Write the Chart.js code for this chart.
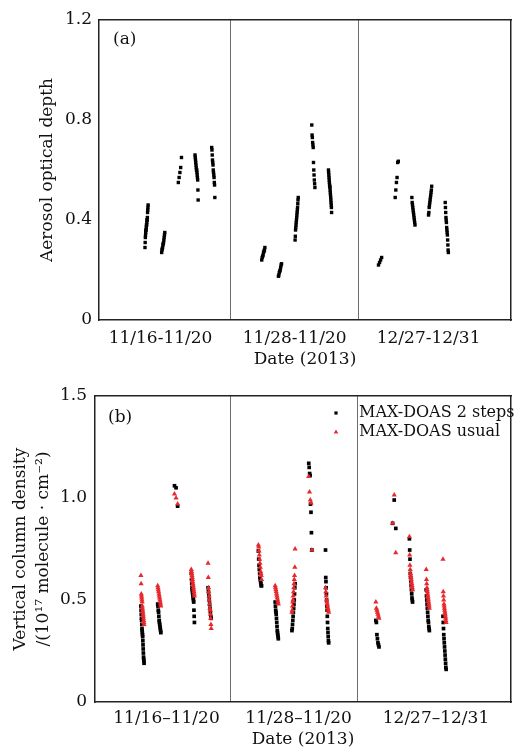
<!DOCTYPE html>
<html>
<head>
<meta charset="utf-8">
<title>AOD and VCD, MAX-DOAS 2013</title>
<script src="https://cdn.jsdelivr.net/npm/chart.js@4.4.0/dist/chart.umd.min.js"></script>
<style>
    body { margin: 0; background: #fff; }
    canvas { position: absolute; left: 0; }
</style>
</head>
<body>
<canvas id="aodChart" width="515" height="372" style="top:0"></canvas>
<canvas id="vcdChart" width="515" height="381" style="top:372px"></canvas>
<script>
// Category labels of the three measurement periods
const periodLabelsA = ['11/16-11/20', '11/28-11/20', '12/27-12/31'];
const periodLabelsB = ['11/16\u201311/20', '11/28\u201311/20', '12/27\u201312/31'];

// Y tick values and their labels
const yTicksA = [0, 0.4, 0.8, 1.2];
const yTickLabelsA = ['0', '0.4', '0.8', '1.2'];
const yTicksB = [0, 0.5, 1.0, 1.5];
const yTickLabelsB = ['0', '0.5', '1.0', '1.5'];

// Measurement days on the compressed date axis (three blocks of five days)
const days = [3, 4, 5, 6, 7, 10, 11, 12, 13, 14, 17, 18, 19, 20, 21];

// Aerosol optical depth, one list per day in time order
const aod = [
    [0.29, 0.31, 0.33, 0.34, 0.35, 0.36, 0.36, 0.37, 0.38, 0.38, 0.39, 0.40, 0.40, 0.41, 0.43, 0.44, 0.45, 0.46],
    [0.27, 0.28, 0.285, 0.29, 0.30, 0.305, 0.31, 0.32, 0.33, 0.34, 0.35],
    [0.55, 0.57, 0.59, 0.61, 0.65],
    [0.66, 0.65, 0.64, 0.63, 0.62, 0.61, 0.60, 0.60, 0.59, 0.58, 0.57, 0.56, 0.52, 0.48],
    [0.69, 0.68, 0.66, 0.64, 0.63, 0.62, 0.60, 0.59, 0.58, 0.57, 0.55, 0.54, 0.49],
    [0.24, 0.25, 0.255, 0.26, 0.27, 0.275, 0.28, 0.29],
    [0.175, 0.18, 0.19, 0.195, 0.20, 0.21, 0.22, 0.225],
    [0.32, 0.335, 0.36, 0.37, 0.38, 0.39, 0.40, 0.41, 0.42, 0.43, 0.44, 0.45, 0.465, 0.48, 0.49],
    [0.78, 0.74, 0.73, 0.71, 0.70, 0.69, 0.63, 0.60, 0.58, 0.56, 0.545, 0.53],
    [0.60, 0.59, 0.58, 0.57, 0.56, 0.55, 0.54, 0.535, 0.53, 0.52, 0.51, 0.50, 0.49, 0.48, 0.47, 0.46, 0.45, 0.43],
    [0.22, 0.23, 0.24, 0.25],
    [0.49, 0.52, 0.55, 0.57, 0.63, 0.635],
    [0.49, 0.47, 0.46, 0.45, 0.44, 0.43, 0.42, 0.41, 0.40, 0.39, 0.38],
    [0.42, 0.43, 0.45, 0.46, 0.47, 0.48, 0.49, 0.50, 0.51, 0.52, 0.535],
    [0.47, 0.45, 0.43, 0.41, 0.40, 0.39, 0.37, 0.36, 0.35, 0.34, 0.32, 0.30, 0.28, 0.27]
];

// Vertical column density (10^17 molecule/cm2), MAX-DOAS 2 steps
const vcdTwoSteps = [
    [0.47, 0.45, 0.43, 0.41, 0.40, 0.38, 0.36, 0.35, 0.34, 0.33, 0.32, 0.30, 0.28, 0.26, 0.24, 0.22, 0.21, 0.20, 0.19],
    [0.48, 0.47, 0.45, 0.44, 0.42, 0.40, 0.39, 0.38, 0.37, 0.36, 0.35, 0.34],
    [1.06, 1.05, 0.96],
    [0.63, 0.60, 0.58, 0.56, 0.55, 0.54, 0.53, 0.52, 0.51, 0.50, 0.49, 0.45, 0.42, 0.39],
    [0.56, 0.54, 0.52, 0.50, 0.48, 0.46, 0.44, 0.42, 0.41],
    [0.74, 0.70, 0.67, 0.65, 0.63, 0.61, 0.60, 0.59, 0.58, 0.57, 0.57],
    [0.49, 0.47, 0.45, 0.44, 0.43, 0.41, 0.39, 0.37, 0.35, 0.34, 0.33, 0.32, 0.31],
    [0.35, 0.36, 0.38, 0.40, 0.42, 0.44, 0.46, 0.48, 0.50, 0.53, 0.56, 0.58],
    [1.17, 1.15, 1.12, 1.11, 0.97, 0.93, 0.83, 0.745],
    [0.745, 0.61, 0.59, 0.56, 0.53, 0.50, 0.47, 0.45, 0.42, 0.39, 0.36, 0.34, 0.32, 0.30, 0.29],
    [0.40, 0.39, 0.33, 0.31, 0.29, 0.28, 0.27],
    [0.876, 0.99, 0.851],
    [0.80, 0.745, 0.70, 0.63, 0.61, 0.59, 0.57, 0.55, 0.53, 0.51, 0.50, 0.49],
    [0.55, 0.52, 0.50, 0.48, 0.46, 0.44, 0.42, 0.40, 0.39, 0.37, 0.36, 0.35],
    [0.42, 0.39, 0.36, 0.33, 0.31, 0.29, 0.27, 0.25, 0.23, 0.21, 0.19, 0.17, 0.16]
];

// Vertical column density, MAX-DOAS usual
const vcdUsual = [
    [0.62, 0.58, 0.53, 0.52, 0.51, 0.50, 0.49, 0.47, 0.46, 0.45, 0.44, 0.43, 0.42, 0.41, 0.40, 0.39, 0.38],
    [0.57, 0.56, 0.55, 0.54, 0.53, 0.52, 0.51, 0.50, 0.49, 0.48, 0.47],
    [1.02, 1.00, 0.97],
    [0.65, 0.64, 0.63, 0.62, 0.61, 0.60, 0.59, 0.58, 0.57, 0.56, 0.55, 0.54, 0.53, 0.52],
    [0.68, 0.61, 0.56, 0.54, 0.52, 0.50, 0.48, 0.46, 0.45, 0.43, 0.41, 0.38, 0.36],
    [0.77, 0.76, 0.74, 0.72, 0.70, 0.68, 0.66, 0.64, 0.63, 0.62, 0.60],
    [0.57, 0.56, 0.55, 0.54, 0.53, 0.52, 0.51, 0.50, 0.49, 0.48],
    [0.44, 0.45, 0.47, 0.49, 0.50, 0.52, 0.54, 0.56, 0.58, 0.60, 0.62, 0.66, 0.75],
    [1.105, 1.03, 0.99, 0.975, 0.745],
    [0.56, 0.54, 0.52, 0.50, 0.49, 0.48, 0.47, 0.46, 0.45, 0.44],
    [0.49, 0.46, 0.45, 0.44, 0.43, 0.42, 0.41],
    [0.876, 1.015, 0.732],
    [0.81, 0.72, 0.67, 0.65, 0.63, 0.62, 0.61, 0.60, 0.59, 0.58, 0.57, 0.56, 0.55],
    [0.65, 0.60, 0.58, 0.56, 0.55, 0.54, 0.53, 0.52, 0.51, 0.50, 0.49, 0.48, 0.47, 0.46],
    [0.70, 0.54, 0.52, 0.50, 0.48, 0.47, 0.46, 0.45, 0.44, 0.43, 0.42, 0.41, 0.40, 0.39]
];

// Daily observation window (hours)
const obsStart = 10;
const obsEnd = 14.5;

const FONT = "'DejaVu Serif', serif";
const INK = '#111';
const RED = '#e8282c';

Chart.defaults.font.family = FONT;
Chart.defaults.color = INK;

// Spread the samples of each day over the observation window
function toPoints(perDay) {
    const points = [];
    perDay.forEach((values, d) => {
        values.forEach((v, i) => {
            const frac = values.length > 1 ? i / (values.length - 1) : 0.5;
            const hour = obsStart + (obsEnd - obsStart) * frac;
            points.push({ x: days[d] + hour / 24, y: v });
        });
    });
    return points;
}

// Small text tag "(a)" / "(b)" plus an inset legend
const insetText = {
    id: 'insetText',
    afterDraw(chart, args, opts) {
        const { ctx, chartArea } = chart;
        ctx.save();
        ctx.fillStyle = INK;
        ctx.textBaseline = 'middle';
        ctx.textAlign = 'left';
        ctx.font = '17px ' + FONT;
        ctx.fillText(opts.tag, chartArea.left + opts.tagX, chartArea.top + opts.tagY);

        if (opts.legend) {
            ctx.font = '16px ' + FONT;
            chart.data.datasets.forEach((ds, i) => {
                const y = chartArea.top + opts.legendY + i * opts.legendGap;
                const mx = chartArea.right + opts.markerX;
                ctx.fillStyle = ds.backgroundColor;
                ctx.beginPath();
                if (ds.pointStyle === 'triangle') {
                    ctx.moveTo(mx, y - 2.6);
                    ctx.lineTo(mx + 2.3, y + 1.4);
                    ctx.lineTo(mx - 2.3, y + 1.4);
                    ctx.closePath();
                } else {
                    ctx.rect(mx - 1.6, y - 1.6, 3.2, 3.2);
                }
                ctx.fill();
                ctx.fillStyle = INK;
                ctx.fillText(ds.label, chartArea.right + opts.textX, y);
            });
        }
        ctx.restore();
    }
};

function makeScales(cfg) {
    const xTicks = cfg.labelAt.concat(cfg.dividers).sort((a, b) => a - b);
    return {
        x: {
            type: 'linear',
            min: cfg.xMin,
            max: cfg.xMax,
            afterBuildTicks: axis => { axis.ticks = xTicks.map(v => ({ value: v })); },
            afterFit: axis => { axis.height = cfg.xHeight; },
            ticks: {
                autoSkip: false,
                maxRotation: 0,
                minRotation: 0,
                padding: cfg.xPad,
                font: { size: 17 },
                callback: value => {
                    const k = cfg.labelAt.indexOf(value);
                    return k >= 0 ? cfg.labels[k] : '';
                }
            },
            grid: {
                drawTicks: false,
                lineWidth: 1,
                color: ctx => (ctx.tick && cfg.dividers.includes(ctx.tick.value)) ? '#6e6e6e' : 'rgba(0,0,0,0)'
            },
            border: { display: true, color: '#222', width: 1.5 },
            title: {
                display: true,
                text: 'Date (2013)',
                font: { size: 17 },
                padding: { top: 0, bottom: cfg.xTitlePad }
            }
        },
        y: {
            min: cfg.yTicks[0],
            max: cfg.yTicks[cfg.yTicks.length - 1],
            afterBuildTicks: axis => { axis.ticks = cfg.yTicks.map(v => ({ value: v })); },
            afterFit: axis => { axis.width = cfg.yWidth; },
            ticks: {
                padding: cfg.yPad,
                font: { size: 17 },
                callback: (value, index) => cfg.yTickLabels[index]
            },
            grid: { display: false, drawTicks: false },
            border: { display: true, color: '#222', width: 1.5 },
            title: {
                display: true,
                text: cfg.yTitle,
                font: { size: 17, lineHeight: 1.35 },
                padding: { top: cfg.yTitlePad, bottom: 0 }
            }
        },
        // top and right edges of the frame
        xTop: {
            type: 'linear', position: 'top', min: 0, max: 1,
            afterFit: axis => { axis.height = 0; },
            ticks: { display: false },
            grid: { display: false, drawTicks: false },
            border: { display: true, color: '#222', width: 1.5 }
        },
        yRight: {
            type: 'linear', position: 'right', min: 0, max: 1,
            afterFit: axis => { axis.width = 0; },
            ticks: { display: false },
            grid: { display: false, drawTicks: false },
            border: { display: true, color: '#222', width: 1.5 }
        }
    };
}

// Panel (a): aerosol optical depth
new Chart(document.getElementById('aodChart'), {
    type: 'scatter',
    data: {
        datasets: [{
            label: 'AOD',
            data: toPoints(aod),
            pointStyle: 'rect',
            pointRadius: 2.4,
            pointBorderWidth: 0,
            backgroundColor: '#000',
            borderColor: '#000'
        }]
    },
    options: {
        responsive: false,
        animation: false,
        events: [],
        layout: { padding: { top: 20, right: 1, left: 0, bottom: 0 } },
        scales: makeScales({
            xMin: 0.66, xMax: 25.36,
            labelAt: [4.35, 12.39, 20.42],
            dividers: [8.52, 16.2],
            labels: periodLabelsA,
            xHeight: 52, xPad: 8, xTitlePad: 2,
            yTicks: yTicksA, yTickLabels: yTickLabelsA,
            yWidth: 99, yPad: 7,
            yTitle: 'Aerosol optical depth', yTitlePad: 36
        }),
        plugins: {
            legend: { display: false },
            tooltip: { enabled: false },
            insetText: { tag: '(a)', tagX: 14, tagY: 20, legend: false }
        }
    },
    plugins: [insetText]
});

// Panel (b): vertical column density
new Chart(document.getElementById('vcdChart'), {
    type: 'scatter',
    data: {
        datasets: [{
            label: 'MAX-DOAS 2 steps',
            data: toPoints(vcdTwoSteps),
            pointStyle: 'rect',
            pointRadius: 2.6,
            pointBorderWidth: 0,
            backgroundColor: '#000',
            borderColor: '#000',
            order: 1
        }, {
            label: 'MAX-DOAS usual',
            data: toPoints(vcdUsual),
            pointStyle: 'triangle',
            pointRadius: 3,
            pointBorderWidth: 0,
            backgroundColor: RED,
            borderColor: RED,
            order: 0
        }]
    },
    options: {
        responsive: false,
        animation: false,
        events: [],
        layout: { padding: { top: 24, right: 1, left: 0, bottom: 0 } },
        scales: makeScales({
            xMin: 0.68, xMax: 25.47,
            labelAt: [4.94, 12.81, 21.0],
            dividers: [8.73, 16.3],
            labels: periodLabelsB,
            xHeight: 51, xPad: 6, xTitlePad: 3,
            yTicks: yTicksB, yTickLabels: yTickLabelsB,
            yWidth: 95, yPad: 8,
            yTitle: ['Vertical column density', '/(10\u00b9\u2077 molecule \u00b7 cm\u207b\u00b2)'],
            yTitlePad: 9
        }),
        plugins: {
            legend: { display: false },
            tooltip: { enabled: false },
            insetText: {
                tag: '(b)', tagX: 13, tagY: 22, legend: true,
                markerX: -175, textX: -152, legendY: 17, legendGap: 19
            }
        }
    },
    plugins: [insetText]
});
</script>
</body>
</html>
